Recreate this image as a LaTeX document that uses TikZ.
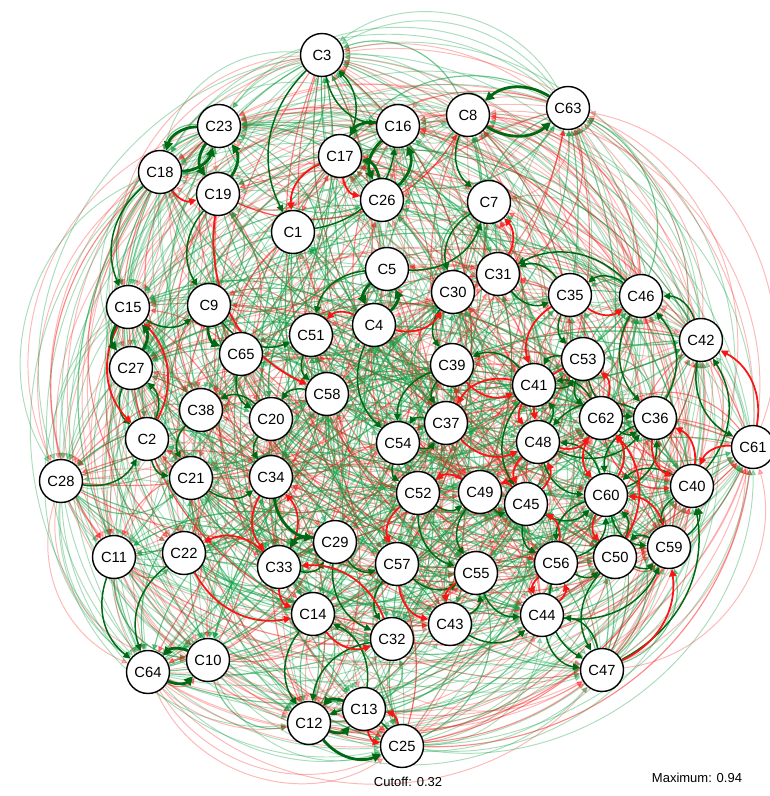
\documentclass[tikz,border=0pt]{standalone}
\usepackage{fontspec}
\setmainfont{Liberation Sans}
\usetikzlibrary{arrows.meta}

\definecolor{posdark}{RGB}{0,105,20}
\definecolor{posfade}{RGB}{20,160,70}
\definecolor{negred}{RGB}{250,20,20}

\pgfdeclarelayer{edgelayer}
\pgfsetlayers{edgelayer,main}

\def\idlist{{1,2,3,4,5,7,8,9,10,11,12,13,14,15,16,17,18,19,20,21,22,23,25,26,27,28,29,30,31,32,33,34,35,36,37,38,39,40,41,42,43,44,45,46,47,48,49,50,51,52,53,54,55,56,57,58,59,60,61,62,63,64,65}}
\def\ringlist{{3,23,18,15,27,28,11,64,10,12,25,47,59,40,61,42,46,63,8,16}}

\tikzset{
  cnode/.style={circle,draw,fill=white,line width=0.8pt,minimum size=0.86cm,inner sep=0pt,font=\fontsize{8.4}{10}\selectfont},
  capt/.style={inner sep=0pt,font=\fontsize{7.4}{9}\selectfont},
  link/.style={bend right=36,-{Triangle[length=3.4pt,width=3.2pt]}},
  pthick/.style={link,draw=posdark,line width=1.6pt,-{Triangle[length=5pt,width=5pt]}},
  pmid/.style={link,draw=posdark,line width=0.85pt,-{Triangle[length=4pt,width=3.8pt]}},
  nred/.style={link,draw=negred,line width=1pt,-{Triangle[length=4.2pt,width=4pt]}},
  fposa/.style={link,bend right=42,draw=posfade,line width=0.55pt,opacity=0.36},
  fposb/.style={link,bend right=42,draw=posfade,line width=0.65pt,opacity=0.6},
  fnega/.style={link,bend right=42,draw=negred,line width=0.55pt,opacity=0.3},
  fnegb/.style={link,bend right=42,draw=negred,line width=0.65pt,opacity=0.5},
  rpos/.style={fposa,bend right=50},
  rneg/.style={fnega,bend right=50},
}
\pgfmathdeclarerandomlist{fadelist}{{fposa}{fposa}{fposb}{fposa}{fposb}{fnega}{fnegb}{fnega}}
\pgfmathdeclarerandomlist{ringstyle}{{rpos}{rpos}{rpos}{rneg}{rneg}}

\begin{document}
\begin{tikzpicture}[x=0.02cm,y=-0.02cm]
\useasboundingbox (0,0) rectangle (769,796);

\foreach \n/\x/\y in {1/293/232, 2/147/439, 3/322/55, 4/374/325, 5/387/269, 7/489/202,
  8/468/115, 9/209/305, 10/208/660, 11/114/557, 12/309/723, 13/364/709, 14/313/614,
  15/128/307, 16/398/126, 17/340/156, 18/160/172, 19/218/194, 20/271/419, 21/191/478,
  22/184/553, 23/219/126, 25/402/746, 26/382/200, 27/131/368, 28/61/481, 29/335/542,
  30/453/292, 31/498/274, 32/392/639, 33/279/567, 34/271/477, 35/570/295, 36/655/418,
  37/446/423, 38/201/410, 39/452/365, 40/692/486, 41/534/385, 42/701/340, 43/450/624,
  44/542/615, 45/526/504, 46/641/296, 47/602/670, 48/538/442, 49/480/492, 50/615/557,
  51/311/335, 52/418/493, 53/583/359, 54/398/443, 55/476/573, 56/556/563, 57/397/564,
  58/327/394, 59/669/547, 60/606/495, 61/753/447, 62/601/418, 63/568/108, 64/148/672,
  65/241/354}
  \node[cnode] (C\n) at (\x,\y) {C\n};

\begin{pgfonlayer}{edgelayer}
  \pgfmathsetseed{4271}
  \foreach \k in {1,...,860}{
    \pgfmathrandomitem{\ec}{fadelist}
    \pgfmathtruncatemacro\ia{random(0,62)}
    \pgfmathtruncatemacro\ib{mod(\ia+random(1,62),63)}
    \pgfmathtruncatemacro\na{\idlist[\ia]}
    \pgfmathtruncatemacro\nb{\idlist[\ib]}
    \draw[\ec] (C\na) to (C\nb);
  }
  % arcs round the outside
  \foreach \i in {0,...,19}
    \foreach \s in {3,...,9}{
      \pgfmathrandomitem{\ec}{ringstyle}
      \pgfmathtruncatemacro\na{\ringlist[\i]}
      \pgfmathtruncatemacro\nb{\ringlist[mod(\i+\s,20)]}
      \draw[\ec] (C\na) to (C\nb);
    }
  \foreach \a/\b in {3/1, 17/3, 1/16, 5/51, 5/7, 46/35, 46/31, 46/36, 36/46, 42/61, 29/32,
    27/2, 2/27, 38/21, 21/34, 20/38, 44/59, 55/44, 52/55, 60/59, 47/40, 8/7, 41/53, 53/41,
    48/41, 62/36, 60/36, 40/42, 56/50, 45/56, 49/55, 54/52, 37/54, 39/54, 4/54, 51/58,
    58/20, 20/34, 19/9, 3/16, 50/60, 57/32, 43/55, 35/53, 14/12, 47/44, 44/47, 59/40,
    40/59, 36/60, 53/36, 62/41, 41/39, 39/37, 48/60, 60/48, 45/60, 43/44, 56/47, 50/47,
    32/12, 11/64, 22/64, 28/2, 15/9, 18/15, 54/37, 52/49, 49/45, 57/55, 29/57, 30/39,
    31/35, 35/31, 7/30, 42/46, 48/36, 36/48, 53/62, 41/45, 60/56, 56/60, 59/50, 50/59,
    40/60, 25/12, 13/14, 33/29, 2/21, 9/51, 65/20}
    \draw[pmid] (C\a) to (C\b);
  \foreach \a/\b in {18/19, 17/26, 17/1, 15/2, 2/15, 4/51, 41/37, 32/33, 14/32, 22/14,
    33/22, 34/33, 33/34, 13/25, 25/13, 61/42, 31/7, 35/46, 19/58, 4/30, 45/48, 48/45,
    60/62, 50/62, 41/48, 56/44, 44/56, 55/43, 57/43, 39/41, 37/48, 62/60, 59/60, 40/36,
    36/40, 61/40, 47/59, 60/50, 52/57, 49/52, 45/49, 56/45, 53/48, 62/53, 48/62, 35/41,
    33/14}
    \draw[nred] (C\a) to (C\b);
  \foreach \a/\b in {63/8, 8/63, 23/19, 19/23, 16/26, 26/16, 16/17, 9/65, 5/4, 4/5, 15/27,
    27/15, 64/10, 10/64, 12/13, 13/12, 12/25, 34/29, 29/33, 23/18, 18/23, 26/17}
    \draw[pthick] (C\a) to (C\b);
\end{pgfonlayer}

\node[capt] (cutoff) at (408,782) {Cutoff: 0.32};
\node[capt] (maxw) at (697,778) {Maximum: 0.94};
\end{tikzpicture}
\end{document}
